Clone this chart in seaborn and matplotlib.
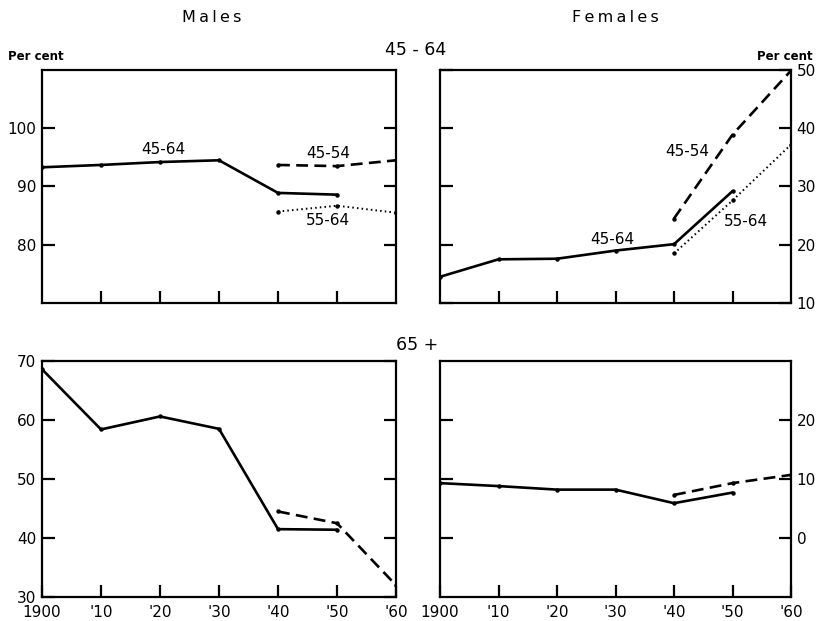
import matplotlib
matplotlib.use("Agg")
import matplotlib.pyplot as plt
import seaborn as sns

# ---- data ----
years_full = [1900, 1910, 1920, 1930, 1940, 1950]
years_late = [1940, 1950, 1960]

male_4564 = [93.3, 93.7, 94.2, 94.5, 88.9, 88.6]
male_4554 = [93.7, 93.5, 94.5]
male_5564 = [85.7, 86.7, 85.5]

female_4564 = [14.5, 17.5, 17.6, 19.0, 20.1, 29.2]
female_4554 = [24.5, 38.9, 49.9]
female_5564 = [18.5, 27.6, 37.2]

male_65 = [68.6, 58.4, 60.6, 58.5, 41.5, 41.4]
male_65_new = [44.5, 42.5, 32.0]

female_65 = [9.3, 8.8, 8.2, 8.2, 5.9, 7.7]
female_65_new = [7.3, 9.3, 10.7]

x_ticks = [1900, 1910, 1920, 1930, 1940, 1950, 1960]
x_labels = ["1900", "'10", "'20", "'30", "'40", "'50", "'60"]

sns.set_style("white")
plt.rcParams["font.family"] = ["DejaVu Sans"]
plt.rcParams.update({
    "xtick.direction": "in", "ytick.direction": "in",
    "xtick.major.size": 9, "ytick.major.size": 9,
    "xtick.major.width": 1.6, "ytick.major.width": 1.6,
    "xtick.color": "black", "ytick.color": "black",
    "xtick.labelcolor": "black", "ytick.labelcolor": "black",
    "text.color": "black",
})

fig = plt.figure(figsize=(8.23, 6.21), dpi=100)

W = 354 / 823
W2 = 351 / 823
H = (303 - 70) / 621
ax_tl = fig.add_axes([42 / 823, 1 - 303 / 621, W, H])
ax_tr = fig.add_axes([440 / 823, 1 - 303 / 621, W2, H])
ax_bl = fig.add_axes([42 / 823, 1 - 597 / 621, W, (597 - 361) / 621])
ax_br = fig.add_axes([440 / 823, 1 - 597 / 621, W2, (597 - 361) / 621])

LW = 1.9


def draw(ax, xs, ys, style):
    sns.lineplot(x=xs, y=ys, ax=ax, color="black", linewidth=LW,
                 marker="o", markersize=3.2, markeredgewidth=0, sort=True)
    ln = ax.lines[-1]
    if style == "dashed":
        ln.set_dashes((4.5, 2.4))
    elif style == "dotted":
        ln.set_linewidth(1.4)
        ln.set_dashes((0.8, 1.6))


draw(ax_tl, years_full, male_4564, "solid")
draw(ax_tl, years_late, male_4554, "dashed")
draw(ax_tl, years_late, male_5564, "dotted")

draw(ax_tr, years_full, female_4564, "solid")
draw(ax_tr, years_late, female_4554, "dashed")
draw(ax_tr, years_late, female_5564, "dotted")

draw(ax_bl, years_full, male_65, "solid")
draw(ax_bl, years_late, male_65_new, "dashed")

draw(ax_br, years_full, female_65, "solid")
draw(ax_br, years_late, female_65_new, "dashed")

FS = 11
for ax in (ax_tl, ax_tr, ax_bl, ax_br):
    ax.set_xlim(1900, 1960)
    ax.set_xlabel("")
    ax.set_ylabel("")
    for s in ax.spines.values():
        s.set_linewidth(1.6)
        s.set_color("black")
        s.set_visible(True)
    ax.tick_params(axis="both", which="major", direction="in", length=9,
                   width=1.6, color="black", labelsize=FS, pad=4,
                   top=False, bottom=True)
    ax.set_facecolor("white")

# x ticks
for ax in (ax_tl, ax_tr):
    ax.set_xticks(x_ticks[1:-1])
    ax.set_xticklabels([])
for ax in (ax_bl, ax_br):
    ax.set_xticks(x_ticks)
    ax.set_xticklabels(x_labels)
    ax.tick_params(axis="x", pad=6)

# y axes
ax_tl.set_ylim(70, 110)
ax_tl.set_yticks([80, 90, 100])
ax_tl.tick_params(axis="y", left=True, right=True, labelleft=True, labelright=False)

ax_tr.set_ylim(10, 50)
ax_tr.set_yticks([10, 20, 30, 40, 50])
ax_tr.tick_params(axis="y", left=True, right=True, labelleft=False, labelright=True)

ax_bl.set_ylim(30, 70)
ax_bl.set_yticks([30, 40, 50, 60, 70])
ax_bl.tick_params(axis="y", left=True, right=True, labelleft=True, labelright=False)

ax_br.set_ylim(-10, 30)
ax_br.set_yticks([0, 10, 20])
ax_br.tick_params(axis="y", left=True, right=True, labelleft=False, labelright=True)

# in-panel labels
ax_tl.text(1920.5, 96.4, "45-64", ha="center", va="center", fontsize=FS)
ax_tl.text(1948.5, 95.6, "45-54", ha="center", va="center", fontsize=FS)
ax_tl.text(1948.5, 84.2, "55-64", ha="center", va="center", fontsize=FS)

ax_tr.text(1942.3, 36.0, "45-54", ha="center", va="center", fontsize=FS)
ax_tr.text(1952.3, 24.0, "55-64", ha="center", va="center", fontsize=FS)
ax_tr.text(1929.5, 20.9, "45-64", ha="center", va="center", fontsize=FS)

# figure texts
TS = "\u2009"
fig.text(212 / 823, 1 - 18 / 621, TS.join("Males"), ha="center", va="center", fontsize=11.5)
fig.text(615 / 823, 1 - 18 / 621, TS.join("Females"), ha="center", va="center", fontsize=11.5)
fig.text(416 / 823, 1 - 50 / 621, "45 - 64", ha="center", va="center", fontsize=12.5)
fig.text(417 / 823, 1 - 345 / 621, "65 +", ha="center", va="center", fontsize=12.5)
fig.text(8 / 823, 1 - 57 / 621, "Per cent", ha="left", va="center", fontsize=8.5, fontweight="bold")
fig.text(813 / 823, 1 - 57 / 621, "Per cent", ha="right", va="center", fontsize=8.5, fontweight="bold")

fig.savefig("out.png", dpi=100, facecolor="white")
